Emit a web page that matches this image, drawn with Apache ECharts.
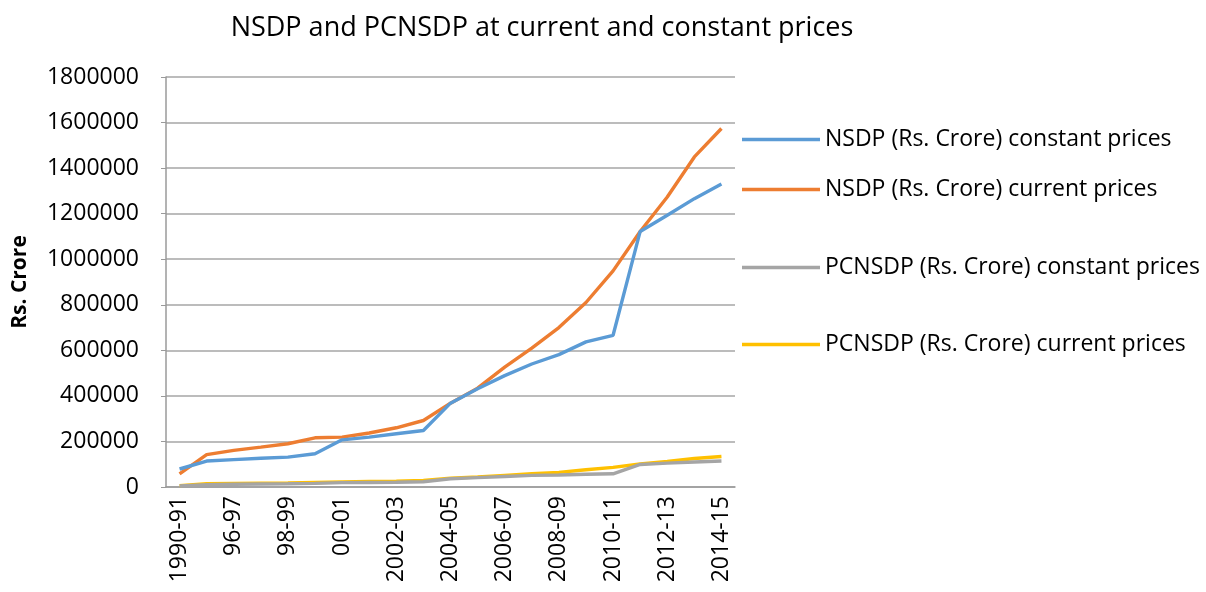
<!DOCTYPE html>
<html>
<head>
<meta charset="utf-8">
<script src="https://cdn.jsdelivr.net/npm/echarts@6/dist/echarts.min.js"></script>
<style>
  html, body { margin: 0; padding: 0; background: #fff; }
  #chart { width: 1206px; height: 592px; }
</style>
</head>
<body>
<div id="chart"></div>
<script>
var years = ['1990-91', '95-96', '96-97', '97-98', '98-99', '99-00', '00-01', '01-02',
    '2002-03', '2003-04', '2004-05', '2005-06', '2006-07', '2007-08', '2008-09', '2009-10',
    '2010-11', '2011-12', '2012-13', '2013-14', '2014-15'];

var nsdpConstant = [79000, 114000, 120000, 126000, 131000, 146000, 207000, 219000, 234000, 248000,
    368000, 431000, 489000, 540000, 581000, 637000, 666000, 1122000, 1193000, 1266000, 1330000];
var nsdpCurrent = [58000, 142000, 161000, 175000, 190000, 216000, 219000, 237000, 260000, 292000,
    368000, 434000, 526000, 610000, 700000, 810000, 949000, 1122000, 1273000, 1449000, 1574000];
var pcConstant = [5000, 10000, 12000, 13000, 14000, 16000, 19000, 20000, 21000, 23000,
    36000, 41000, 46000, 51000, 53000, 56000, 58000, 99000, 105000, 110000, 114000];
var pcCurrent = [6000, 14000, 16000, 17000, 18000, 20000, 22000, 24000, 26000, 29000,
    39000, 44000, 51000, 58000, 64000, 76000, 86000, 101000, 112000, 125000, 134000];

var seriesNames = ['NSDP (Rs. Crore) constant prices', 'NSDP (Rs. Crore) current prices',
    'PCNSDP (Rs. Crore) constant prices', 'PCNSDP (Rs. Crore) current prices'];
var colors = ['#5B9BD5', '#ED7D31', '#A5A5A5', '#FFC000'];
var legendTops = [128, 178, 256, 333];

var font = '"Open Sans", "Liberation Sans", sans-serif';

var chart = echarts.init(document.getElementById('chart'));

var legends = seriesNames.map(function (name, i) {
    return {
        data: [name],
        left: 742,
        top: legendTops[i],
        padding: 0,
        orient: 'vertical',
        itemWidth: 78,
        itemHeight: 24,
        itemGap: 0,
        icon: 'path://M0,10.3 L78,10.3 L78,13.7 L0,13.7 Z',
        textStyle: { fontFamily: font, fontSize: 23, color: '#000' }
    };
});

var option = {
    animation: false,
    backgroundColor: '#fff',
    color: colors,
    title: {
        text: 'NSDP and PCNSDP at current and constant prices',
        left: 537,
        textAlign: 'center',
        top: 10,
        textStyle: { fontFamily: font, fontSize: 27, fontWeight: 'normal', color: '#000' }
    },
    legend: legends,
    grid: { left: 166, right: 471, top: 77, bottom: 105 },
    xAxis: {
        type: 'category',
        data: years,
        boundaryGap: true,
        axisLine: { lineStyle: { color: '#9a9a9a', width: 1.5 } },
        axisTick: { show: false },
        axisLabel: {
            interval: 1,
            rotate: 90,
            margin: 9,
            fontFamily: font,
            fontSize: 23,
            color: '#000'
        }
    },
    yAxis: {
        type: 'value',
        min: 0,
        max: 1800000,
        interval: 200000,
        name: 'Rs. Crore',
        nameLocation: 'middle',
        nameGap: 135,
        nameRotate: 90,
        nameTextStyle: { fontFamily: font, fontSize: 21, fontWeight: 'bold', color: '#000' },
        axisLine: { show: true, lineStyle: { color: '#9a9a9a', width: 1.5 } },
        axisTick: { show: true, length: 5, lineStyle: { color: '#9a9a9a' } },
        splitLine: { lineStyle: { color: '#a6a6a6', width: 1.5 } },
        axisLabel: {
            fontFamily: font,
            fontSize: 23,
            color: '#000',
            margin: 27,
            formatter: function (v) { return String(v); }
        }
    },
    series: [
        { name: seriesNames[0], type: 'line', data: nsdpConstant },
        { name: seriesNames[1], type: 'line', data: nsdpCurrent },
        { name: seriesNames[2], type: 'line', data: pcConstant },
        { name: seriesNames[3], type: 'line', data: pcCurrent }
    ].map(function (s, i) {
        s.symbol = 'none';
        s.lineStyle = { width: 3.4, color: colors[i] };
        s.z = 10 - i;
        return s;
    })
};

chart.setOption(option);
</script>
</body>
</html>
